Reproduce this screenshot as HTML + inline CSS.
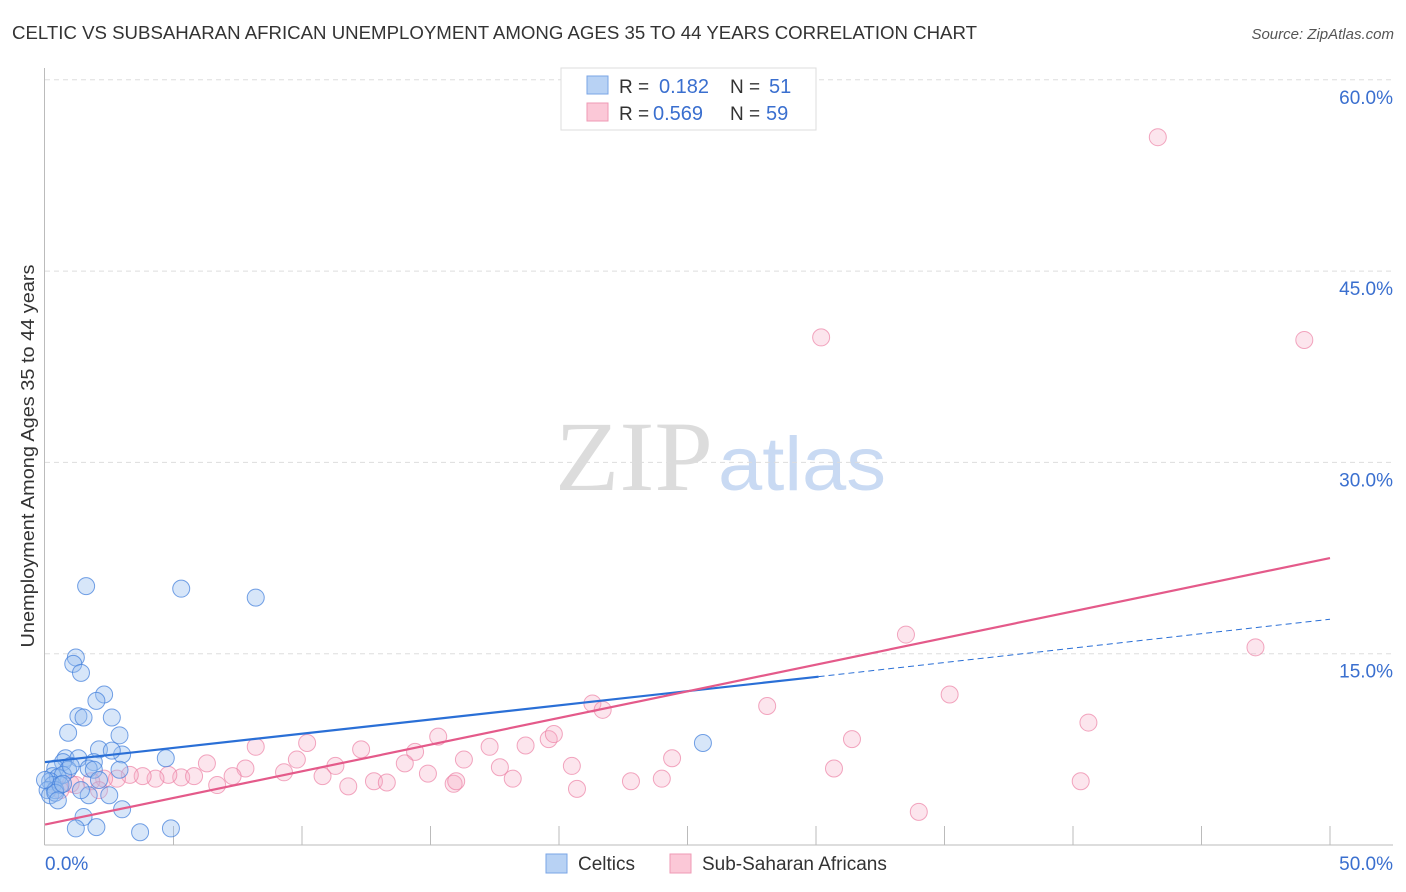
<!DOCTYPE html>
<html><head><meta charset="utf-8">
<style>
body{margin:0;background:#fff;font-family:"Liberation Sans",sans-serif;}
svg{display:block}
</style></head>
<body>
<svg id="chart" width="1406" height="892">
<text x="12" y="39" font-size="18" fill="#333" textLength="965" lengthAdjust="spacingAndGlyphs">CELTIC VS SUBSAHARAN AFRICAN UNEMPLOYMENT AMONG AGES 35 TO 44 YEARS CORRELATION CHART</text>
<text x="1394" y="39" font-size="15" fill="#555" font-style="italic" text-anchor="end">Source: ZipAtlas.com</text>
<g>
<text x="555" y="490" font-size="100" fill="#dcdcdc" font-family="Liberation Serif,serif" textLength="158" lengthAdjust="spacingAndGlyphs">ZIP</text>
<text x="718" y="490" font-size="76" fill="#c9daf3" textLength="168" lengthAdjust="spacingAndGlyphs">atlas</text>
</g>
<g id="grid"></g>
<g id="axes"></g>
<g id="points"></g>
<g id="trends"></g>
<text transform="translate(34,456) rotate(-90)" font-size="18" fill="#333" text-anchor="middle" textLength="383" lengthAdjust="spacingAndGlyphs">Unemployment Among Ages 35 to 44 years</text>
<g>
<rect x="561" y="68" width="255" height="62" fill="#fff" stroke="#ddd"/>
<rect x="587" y="76" width="21" height="18" fill="#b8d2f4" stroke="#7aa5e6"/>
<rect x="587" y="103" width="21" height="18" fill="#fbc8d7" stroke="#ef9ab4"/>
<text x="619" y="93" font-size="19" fill="#333">R =</text><text x="659" y="93" font-size="20" fill="#3a6fcf">0.182</text>
<text x="730" y="93" font-size="19" fill="#333">N =</text><text x="769" y="93" font-size="20" fill="#3a6fcf">51</text>
<text x="619" y="120" font-size="19" fill="#333">R =</text><text x="653" y="120" font-size="20" fill="#3a6fcf">0.569</text>
<text x="730" y="120" font-size="19" fill="#333">N =</text><text x="766" y="120" font-size="20" fill="#3a6fcf">59</text>
</g>
<g>
<rect x="546" y="854" width="21" height="19" fill="#b8d2f4" stroke="#7aa5e6"/>
<text x="578" y="870" font-size="19" fill="#333">Celtics</text>
<rect x="670" y="854" width="21" height="19" fill="#fbc8d7" stroke="#ef9ab4"/>
<text x="702" y="870" font-size="19" fill="#333">Sub-Saharan Africans</text>
</g>
</svg>
<script>
const celticsX=[1.6,5.3,8.2,1.2,1.1,1.4,2.3,2.0,1.3,1.5,2.6,0.9,2.9,2.1,3.0,2.6,0.8,1.3,1.9,0.7,0.4,0.9,0.3,0.5,0.7,0.2,0.3,0.1,0.2,0.4,1.7,2.5,3.0,1.5,1.2,2.0,3.7,4.9,4.7,25.6,0.6,0.4,0.7,2.9,1.7,1.9,1.0,0.5,0.0,1.4,2.1];
const celticsY=[20.3,20.1,19.4,14.7,14.2,13.5,11.8,11.3,10.1,10.0,10.0,8.8,8.6,7.5,7.1,7.4,6.8,6.8,6.5,6.5,6.0,5.9,5.4,5.3,5.5,5.0,4.7,4.3,3.9,4.3,3.9,3.9,2.8,2.2,1.3,1.4,1.0,1.3,6.8,8.0,4.7,4.1,4.8,5.9,6.0,5.9,6.2,3.5,5.1,4.3,5.1];
const subX=[43.3,30.2,49.0,33.5,47.1,35.2,21.3,21.7,28.1,40.6,31.4,15.3,8.2,10.2,12.3,14.4,16.3,17.3,18.7,19.6,19.8,9.8,11.3,14.0,24.4,6.3,7.8,9.3,10.8,11.8,12.8,13.3,14.9,15.9,16.0,17.7,18.2,20.5,20.7,22.8,24.0,30.7,40.3,34.0,7.3,6.7,5.3,5.8,4.8,4.3,3.8,3.3,2.8,2.3,1.8,1.0,0.6,1.2,2.1];
const subY=[55.5,39.8,39.6,16.5,15.5,11.8,11.1,10.6,10.9,9.6,8.3,8.5,7.7,8.0,7.5,7.3,6.7,7.7,7.8,8.3,8.7,6.7,6.2,6.4,6.8,6.4,6.0,5.7,5.4,4.6,5.0,4.9,5.6,4.8,5.0,6.1,5.2,6.2,4.4,5.0,5.2,6.0,5.0,2.6,5.4,4.7,5.3,5.4,5.5,5.2,5.4,5.5,5.2,5.2,5.0,4.8,4.3,4.7,4.3];
const yTicks=[15,30,45,60];
const yTickLabels=["15.0%","30.0%","45.0%","60.0%"];
const xTicks=[0,5,10,15,20,25,30,35,40,45,50];
const blueTrend=[[0,6.5],[30.1,13.2],[50,17.7]];
const pinkTrend=[[0,1.6],[50,22.5]];

const NS="http://www.w3.org/2000/svg";
const X=v=>45+v/50*1285;
const Y=v=>845-v/15*191.3;
function mk(parent,tag,attrs){const e=document.createElementNS(NS,tag);for(const k in attrs)e.setAttribute(k,attrs[k]);document.getElementById(parent).appendChild(e);return e;}
yTicks.forEach((t,i)=>{
  const l=mk('grid','line',{x1:45,x2:1393,y1:Y(t),y2:Y(t),stroke:'#ddd','stroke-dasharray':'5,4'});
  
  
  const tx=mk('grid','text',{x:1393,y:Y(t)+24,'font-size':19,fill:'#3a6fcf','text-anchor':'end'});
  tx.textContent=yTickLabels[i];
  
  
});
let a=mk('axes','line',{x1:44.5,x2:44.5,y1:68,y2:845,stroke:'#bbb'});


a=mk('axes','line',{x1:44.5,x2:1393,y1:845,y2:845,stroke:'#bbb'});


xTicks.slice(1).forEach(t=>{
  const l=mk('axes','line',{x1:X(t),x2:X(t),y1:826,y2:845,stroke:'#bbb'});
  
  
});
let t0=mk('axes','text',{x:45,y:870,'font-size':19,fill:'#3a6fcf'});t0.textContent='0.0%';


let t1=mk('axes','text',{x:1393,y:870,'font-size':19,fill:'#3a6fcf','text-anchor':'end'});t1.textContent='50.0%';


subX.forEach((v,i)=>{
  const c=mk('points','circle',{cx:X(v),cy:Y(subY[i]),r:8.5,fill:'rgba(246,170,195,0.3)',stroke:'rgba(236,130,165,0.7)','stroke-width':1});
  
  
});
celticsX.forEach((v,i)=>{
  const c=mk('points','circle',{cx:X(v),cy:Y(celticsY[i]),r:8.5,fill:'rgba(150,190,240,0.38)',stroke:'rgba(70,130,220,0.75)','stroke-width':1});
  
  
});
let b=mk('trends','line',{x1:X(blueTrend[0][0]),y1:Y(blueTrend[0][1]),x2:X(blueTrend[1][0]),y2:Y(blueTrend[1][1]),stroke:'#2a6fd6','stroke-width':2.2});


b=mk('trends','line',{x1:X(blueTrend[1][0]),y1:Y(blueTrend[1][1]),x2:X(blueTrend[2][0]),y2:Y(blueTrend[2][1]),stroke:'#2a6fd6','stroke-width':1,'stroke-dasharray':'6,4'});


b=mk('trends','line',{x1:X(pinkTrend[0][0]),y1:Y(pinkTrend[0][1]),x2:X(pinkTrend[1][0]),y2:Y(pinkTrend[1][1]),stroke:'#e45a8a','stroke-width':2.2});


</script>
</body></html>
